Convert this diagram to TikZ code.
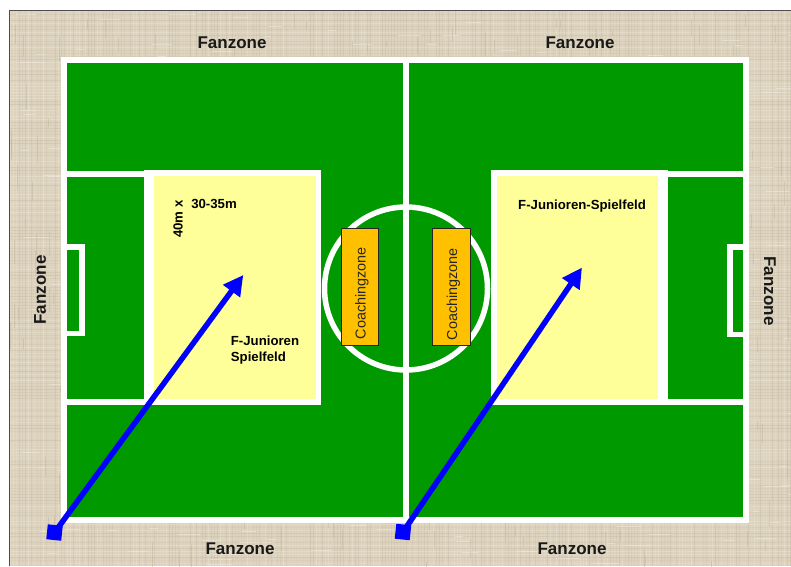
\documentclass[tikz,border=0pt]{standalone}
\usepackage{fontspec}
\setmainfont{Liberation Sans}
\usetikzlibrary{arrows.meta}
\definecolor{burlap}{HTML}{DCD2BD}
\definecolor{burlapdark}{HTML}{BFB39C}
\definecolor{burlaplight}{HTML}{F1EBDD}
\definecolor{pitch}{HTML}{009900}
\definecolor{zoneyellow}{HTML}{FFFF99}
\definecolor{coach}{HTML}{FFC000}
\definecolor{arrowblue}{HTML}{0000FF}
\tikzset{
  fanlabel/.style={font=\bfseries\fontsize{17}{20}\selectfont,text=black!90,inner sep=0pt},
  smalllabel/.style={font=\bfseries\fontsize{13.2}{16}\selectfont,text=black,inner sep=0pt},
  coachbox/.style={draw=black!85,line width=1pt,fill=coach},
  coachtext/.style={font=\fontsize{14.4}{17}\selectfont,text=black!85,rotate=90,inner sep=0pt},
  startmark/.style={fill=arrowblue,minimum size=15pt,inner sep=0pt,rotate=-6},
  bluearrow/.style={draw=arrowblue,line width=5.5pt,-{Triangle[length=20pt,width=20pt]}},
  whitefill/.style={fill=white,draw=none},
  pitchfill/.style={fill=pitch,draw=none},
  yellowfill/.style={fill=zoneyellow,draw=none},
}
\pgfmathsetseed{4711}
\begin{document}
\begin{tikzpicture}[x=1pt,y=-1pt]
\useasboundingbox (0,0) rectangle (791,566);
% burlap ground
\fill[white] (0,0) rectangle (791,566);
\fill[burlap] (9,10) rectangle (791,566);
\begin{scope}
\clip (9,10) rectangle (791,566);
\foreach \i in {0,...,260}{
  \pgfmathsetmacro{\xx}{10+3*\i}
  \pgfmathsetmacro{\oo}{0.10+0.25*rnd}
  \pgfmathparse{rnd<0.5?1:0}
  \ifnum\pgfmathresult=1
    \draw[burlaplight,line width=0.8pt,opacity=\oo] (\xx,10) -- (\xx,566);
  \else
    \draw[burlapdark,line width=0.8pt,opacity=\oo] (\xx,10) -- (\xx,566);
  \fi
}
\foreach \i in {0,...,185}{
  \pgfmathsetmacro{\yy}{11+3*\i}
  \pgfmathsetmacro{\oo}{0.10+0.25*rnd}
  \pgfmathparse{rnd<0.5?1:0}
  \ifnum\pgfmathresult=1
    \draw[burlaplight,line width=0.8pt,opacity=\oo] (9,\yy) -- (791,\yy);
  \else
    \draw[burlapdark,line width=0.8pt,opacity=\oo] (9,\yy) -- (791,\yy);
  \fi
}
\foreach \i in {1,...,700}{
  \pgfmathsetmacro{\xx}{9+782*rnd}
  \pgfmathsetmacro{\yy}{10+556*rnd}
  \pgfmathsetmacro{\ll}{6+22*rnd}
  \pgfmathparse{rnd<0.5?1:0}
  \ifnum\pgfmathresult=1
    \draw[burlaplight,line width=0.8pt,opacity=0.55] (\xx,\yy) -- ++(\ll,0);
  \else
    \draw[burlapdark,line width=0.8pt,opacity=0.45] (\xx,\yy) -- ++(0,\ll);
  \fi
}
\end{scope}
\draw[black!70,line width=1pt] (9,566) -- (9,10) -- (791,10);
% pitch
\path[whitefill] (61,57) rectangle (749,523);
\path[pitchfill] (67,63) rectangle (743,517);
\draw[white,line width=5.5pt] (406,60) -- (406,520);
\draw[white,line width=5.5pt] (406,288.5) circle[radius=81.5];
% penalty lines
\path[whitefill] (64,170.5) rectangle (144,177);
\path[whitefill] (64,399) rectangle (144,405);
\path[whitefill] (668,170.5) rectangle (746,177);
\path[whitefill] (668,399) rectangle (746,405);
% goal boxes
\path[whitefill] (64,244) rectangle (85,336);
\path[pitchfill] (67,250) rectangle (79,331);
\path[whitefill] (727,244) rectangle (746,337);
\path[pitchfill] (733,249.5) rectangle (743,332);
% junior fields
\path[whitefill] (144,170) rectangle (321,405);
\path[yellowfill] (153.7,176) rectangle (315.5,399);
\path[whitefill] (491,170) rectangle (668,405);
\path[yellowfill] (497,176) rectangle (658,399);
% coaching zones
\node[coachbox,minimum width=37pt,minimum height=117pt,inner sep=0pt] (coachL) at (360.3,286.5) {};
\node[coachbox,minimum width=38pt,minimum height=117pt,inner sep=0pt] (coachR) at (451.8,287) {};
\node[coachtext] (coachLt) at (362,293) {Coachingzone};
\node[coachtext] (coachRt) at (453.5,294) {Coachingzone};
% labels
\node[fanlabel] (fanTL) at (232,43) {Fanzone};
\node[fanlabel] (fanTR) at (580,43) {Fanzone};
\node[fanlabel] (fanBL) at (240,548.5) {Fanzone};
\node[fanlabel] (fanBR) at (572,548.5) {Fanzone};
\node[fanlabel,rotate=90] (fanL) at (40,290) {Fanzone};
\node[fanlabel,rotate=-90] (fanR) at (770,291) {Fanzone};
\node[smalllabel,rotate=90] (dimA) at (178,219) {40m x};
\node[smalllabel] (dimB) at (214,203.5) {30-35m};
\node[smalllabel,align=left] (nameL) at (265,350.5) {F-Junioren\\Spielfeld};
\node[smalllabel] (nameR) at (582,206) {F-Junioren-Spielfeld};
% arrows
\coordinate (tipL) at (243.3,275);
\coordinate (tipR) at (582,267.5);
\node[startmark] (startL) at (54.5,532.5) {};
\node[startmark] (startR) at (403,532) {};
\draw[bluearrow] (startL.center) -- (tipL);
\draw[bluearrow] (startR.center) -- (tipR);
\end{tikzpicture}
\end{document}
